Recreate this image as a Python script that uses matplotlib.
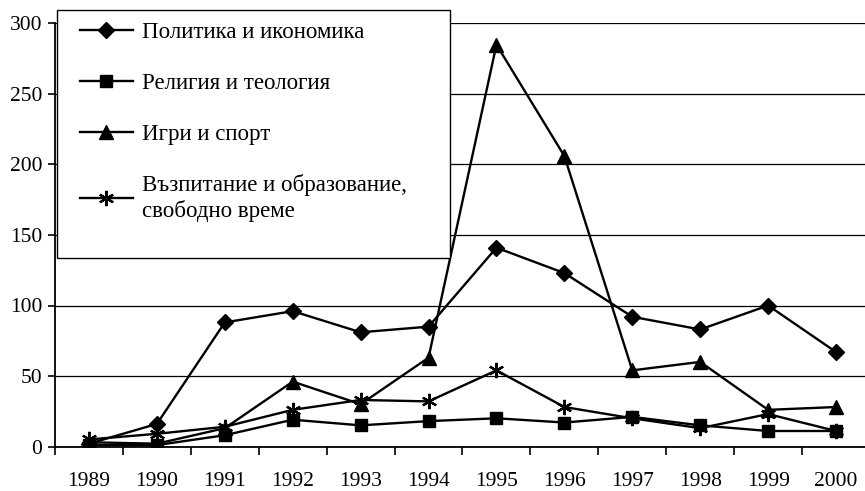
import matplotlib.pyplot as plt
from matplotlib.ticker import FixedLocator
from matplotlib.patches import Rectangle
import numpy as np

plt.rcParams['font.family'] = ['Liberation Serif', 'DejaVu Serif']

years = ['1989', '1990', '1991', '1992', '1993', '1994',
         '1995', '1996', '1997', '1998', '1999', '2000']

politics = [2, 16, 88, 96, 81, 85, 141, 123, 92, 83, 100, 67]
religion = [1, 1, 8, 19, 15, 18, 20, 17, 21, 15, 11, 11]
sport = [3, 2, 13, 46, 30, 63, 285, 206, 54, 60, 26, 28]
education = [5, 9, 14, 26, 33, 32, 54, 28, 20, 13, 23, 11]

labels = ['Политика и икономика', 'Религия и теология', 'Игри и спорт',
          'Възпитание и образование,\nсвободно време']


def main():
    fig = plt.figure(figsize=(8.65, 4.91), dpi=100)
    ax = fig.add_axes([55 / 865, 44.5 / 491, 815 / 865, 423 / 491])

    x = np.arange(len(years))
    lw = 1.7
    l1, = ax.plot(x, politics, color='black', lw=lw, marker='D', ms=8.5)
    l2, = ax.plot(x, religion, color='black', lw=lw, marker='s', ms=8.5)
    l3, = ax.plot(x, sport, color='black', lw=lw, marker='^', ms=10)
    l4, = ax.plot(x, education, color='black', lw=lw, marker=(6, 2, 0), ms=11,
                  mew=1.6)

    ax.set_xlim(-0.5, len(years) - 0.5)
    ax.set_ylim(0, 300)
    ax.set_yticks(range(0, 301, 50))
    ax.yaxis.grid(True, color='black', lw=0.9)
    ax.set_axisbelow(True)

    # labels centred under each year, tick marks between categories
    ax.set_xticks(x)
    ax.set_xticklabels(years)
    ax.xaxis.set_minor_locator(FixedLocator(np.arange(-0.5, len(years), 1)))
    ax.tick_params(axis='x', which='major', length=0, pad=18, labelsize=15.5)
    ax.tick_params(axis='x', which='minor', length=6, width=1.2, direction='out')
    ax.tick_params(axis='y', length=5, width=1.2, pad=4, labelsize=15.5)

    for s in ['top', 'right']:
        ax.spines[s].set_visible(False)
    ax.spines['left'].set_linewidth(1.3)
    ax.spines['bottom'].set_linewidth(1.3)

    # legend box (white, black border) like the original
    box = Rectangle((57 / 865, 1 - 258 / 491), (450 - 57) / 865, (258 - 10) / 491,
                    transform=fig.transFigure, facecolor='white',
                    edgecolor='black', lw=1.0, zorder=5)
    fig.patches.append(box)

    leg = fig.legend([l1, l2, l3, l4], labels, loc='upper left',
                     bbox_to_anchor=(80 / 865, 1 - 22 / 491),
                     fontsize=16.5, frameon=False, borderpad=0,
                     labelspacing=1.3, handlelength=2.3, handletextpad=0.4,
                     borderaxespad=0)
    leg.set_zorder(6)

    fig.savefig('out.png', dpi=100)


if __name__ == '__main__':
    main()
